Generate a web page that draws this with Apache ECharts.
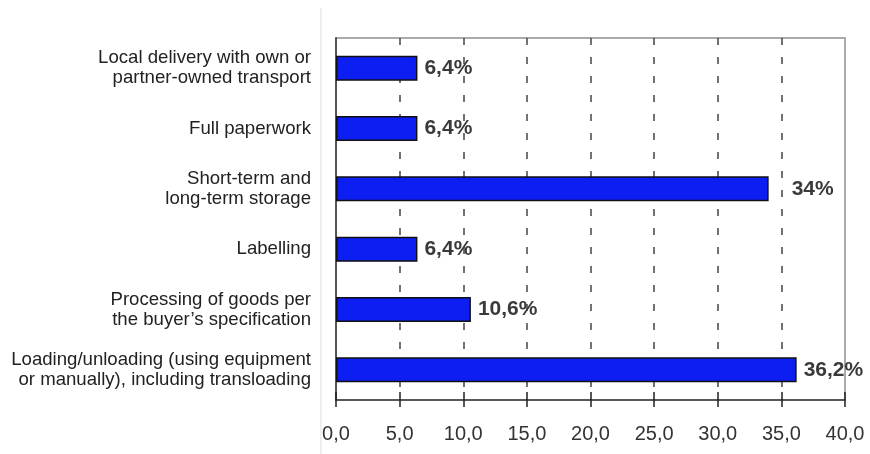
<!DOCTYPE html>
<html>
<head>
<meta charset="utf-8">
<script src="https://cdn.jsdelivr.net/npm/echarts@6/dist/echarts.min.js"></script>
<style>
  html, body { margin: 0; padding: 0; background: #fff; }
  #chart { width: 870px; height: 454px; }
</style>
</head>
<body>
<div id="chart"></div>
<script>
// Services listed bottom-to-top (category axis starts at the bottom)
const categories = [
  'Loading/unloading (using equipment\nor manually), including transloading',
  'Processing of goods per\nthe buyer\u2019s specification',
  'Labelling',
  'Short-term and\nlong-term storage',
  'Full paperwork',
  'Local delivery with own or\npartner-owned transport'
];
const values = [36.2, 10.6, 6.4, 34, 6.4, 6.4];
const valueLabels = ['36,2%', '10,6%', '6,4%', '34%', '6,4%', '6,4%'];
const tickLabels = ['0,0', '5,0', '10,0', '15,0', '20,0', '25,0', '30,0', '35,0', '40,0'];

const chart = echarts.init(document.getElementById('chart'), null, { renderer: 'canvas' });

const seriesData = values.map((v, i) => {
  const item = { value: v };
  // the whole-number label sits a little further from its bar
  if (valueLabels[i].indexOf(',') < 0) {
    item.label = { distance: 23 };
  }
  return item;
});

chart.setOption({
  animation: false,
  backgroundColor: '#fff',
  grid: { left: 336, right: 25, top: 38, bottom: 54, containLabel: false },
  xAxis: [
    {
      type: 'value', min: 0, max: 40, interval: 5,
      axisLine: { show: true, lineStyle: { color: '#222', width: 1.5 } },
      axisTick: { show: true, length: 7, lineStyle: { color: '#222', width: 1.5 } },
      axisLabel: {
        margin: 24,
        fontFamily: 'Liberation Sans, Arial, sans-serif',
        fontSize: 20, color: '#333',
        formatter: (val) => tickLabels[Math.round(val / 5)]
      },
      splitLine: {
        show: true, showMinLine: false, showMaxLine: false,
        lineStyle: { color: '#444', width: 1.5, type: [7, 12] }
      }
    },
    {
      // inward half of the crossing tick marks
      type: 'value', min: 0, max: 40, interval: 5, position: 'bottom',
      axisLine: { show: false },
      axisTick: { show: true, inside: true, length: 8, lineStyle: { color: '#222', width: 1.5 } },
      axisLabel: { show: false },
      splitLine: { show: false }
    }
  ],
  yAxis: {
    type: 'category',
    data: categories,
    axisLine: { show: true, lineStyle: { color: '#555', width: 2 } },
    axisTick: { show: false },
    axisLabel: {
      margin: 25,
      fontFamily: 'Liberation Sans, Arial, sans-serif',
      fontSize: 18.6, lineHeight: 20, color: '#222', align: 'right'
    }
  },
  graphic: [
    {
      type: 'polyline', z: 0, silent: true,
      shape: { points: [[336, 38], [845, 38], [845, 400]] },
      style: { fill: 'none', stroke: '#aaa', lineWidth: 2 }
    },
    {
      type: 'line', z: 0, silent: true,
      shape: { x1: 321, y1: 8, x2: 321, y2: 454 },
      style: { stroke: '#ddd', lineWidth: 1 }
    }
  ],
  series: [{
    type: 'bar',
    data: seriesData,
    barWidth: 25,
    z: 3,
    itemStyle: { color: '#0d1ef2', borderColor: '#111', borderWidth: 1.5 },
    label: {
      show: true, position: 'right', distance: 7,
      fontFamily: 'Liberation Sans, Arial, sans-serif',
      fontSize: 21, fontWeight: 'bold', color: '#3a3a3a',
      formatter: (p) => valueLabels[p.dataIndex]
    }
  }]
});
</script>
</body>
</html>
